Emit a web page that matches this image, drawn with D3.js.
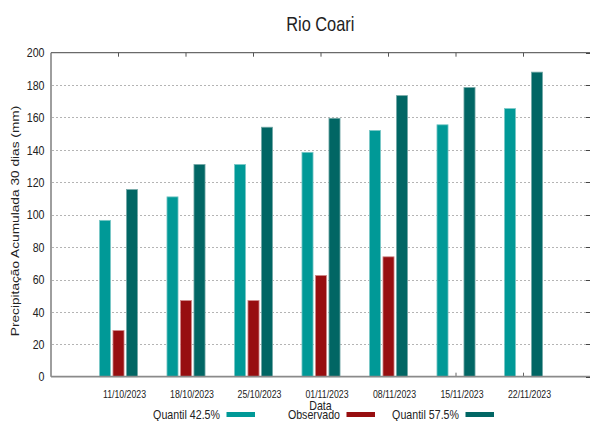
<!DOCTYPE html>
<html>
<head>
<meta charset="utf-8">
<script src="https://cdn.jsdelivr.net/npm/d3@7"></script>
<style>
  html, body { margin: 0; padding: 0; background: #fff; }
  svg { display: block; }
  text { font-family: "Liberation Sans", Arial, sans-serif; fill: #222; }
</style>
</head>
<body>
<svg id="chart" width="590" height="421"></svg>
<script>
// Accumulated 30-day precipitation, Rio Coari
const dates = ["11/10/2023", "18/10/2023", "25/10/2023", "01/11/2023", "08/11/2023", "15/11/2023", "22/11/2023"];
const seriesNames = ["Quantil 42.5%", "Observado", "Quantil 57.5%"];
const seriesColors = ["#009997", "#970e10", "#016664"];
const seriesEdge = ["#7cc9c7", "#d08a8a", "#74a9a7"];
const quantil425 = [96.5, 111, 131, 138.5, 152, 155.5, 165.5];
const observado = [28.5, 47, 47, 62.5, 74, null, null];
const quantil575 = [115.5, 131, 154, 159.5, 173.5, 178.5, 188];
const yTicks = [0, 20, 40, 60, 80, 100, 120, 140, 160, 180, 200];
const gridTicks = [20, 40, 60, 80, 100, 120, 140, 160, 180];

const titleText = "Rio Coari";
const xTitle = "Data";
const yTitle = "Precipitação Acumulada 30 dias (mm)";

const values = [quantil425, observado, quantil575];

// horizontal condensation applied to all lettering
const SQ = 0.82;

const svg = d3.select("#chart");
const plot = { left: 51, right: 591, top: 52.7, bottom: 376.7 };

const x = d3.scalePoint().domain(dates).range([plot.left, plot.right]).padding(1);
const step = x.step();
const inner = d3.scaleBand().domain(seriesNames)
  .range([-step * 0.3, step * 0.3]).paddingInner(0.18).paddingOuter(0.09);
const y = d3.scaleLinear().domain([0, 200]).range([plot.bottom, plot.top]);

// condensed text helper: places text at (px, py) squeezed horizontally
function label(parent, px, py, str, size, anchor) {
  return parent.append("text")
    .attr("transform", `translate(${px},${py}) scale(${SQ},1)`)
    .attr("text-anchor", anchor)
    .attr("font-size", size)
    .text(str);
}

// dotted horizontal grid
svg.append("g").selectAll("line").data(gridTicks).join("line")
  .attr("x1", plot.left + 1).attr("x2", plot.right - 1)
  .attr("y1", d => Math.round(y(d)) + 0.5).attr("y2", d => Math.round(y(d)) + 0.5)
  .attr("stroke", "#b4b4b4").attr("stroke-width", 1).attr("stroke-dasharray", "2,2");

// bottom tick marks at each date
svg.append("g").selectAll("line").data(dates).join("line")
  .attr("x1", d => x(d)).attr("x2", d => x(d))
  .attr("y1", plot.bottom).attr("y2", plot.bottom - 4)
  .attr("stroke", "#666").attr("stroke-width", 1);

// bars
seriesNames.forEach((name, si) => {
  const rows = dates.map((d, i) => ({ date: d, v: values[si][i] })).filter(r => r.v != null);
  svg.append("g").selectAll("rect").data(rows).join("rect")
    .attr("x", r => x(r.date) + inner(name))
    .attr("width", inner.bandwidth())
    .attr("y", r => y(r.v))
    .attr("height", r => y(0) - y(r.v))
    .attr("fill", seriesColors[si])
    .attr("stroke", seriesEdge[si])
    .attr("stroke-width", 0.8);
});

// frame
const frame = svg.append("g").attr("fill", "none");
frame.append("line").attr("x1", plot.left).attr("x2", plot.right)
  .attr("y1", plot.top).attr("y2", plot.top).attr("stroke", "#6a6a6a").attr("stroke-width", 1.3);
frame.append("line").attr("x1", plot.left).attr("x2", plot.left)
  .attr("y1", plot.top).attr("y2", plot.bottom).attr("stroke", "#6a6a6a").attr("stroke-width", 1.3);
frame.append("line").attr("x1", plot.left).attr("x2", plot.right)
  .attr("y1", plot.bottom).attr("y2", plot.bottom).attr("stroke", "#8a8a8a").attr("stroke-width", 1.8);

// top mirrored ticks
svg.append("g").selectAll("line").data(dates).join("line")
  .attr("x1", d => x(d)).attr("x2", d => x(d))
  .attr("y1", plot.top).attr("y2", plot.top + 4)
  .attr("stroke", "#555").attr("stroke-width", 1);

// right mirrored ticks
svg.append("g").selectAll("line").data(yTicks).join("line")
  .attr("x1", plot.right - 5).attr("x2", plot.right)
  .attr("y1", d => Math.round(y(d)) + 0.5).attr("y2", d => Math.round(y(d)) + 0.5)
  .attr("stroke", "#444").attr("stroke-width", 1);

// y tick labels
const yLab = svg.append("g");
yTicks.forEach(d => label(yLab, 44.5, y(d) + 4.6, d, 13, "end"));

// x tick labels
const xLab = svg.append("g");
dates.forEach(d => label(xLab, x(d) + 6, 398.3, d, 10.7, "middle"));

// title
label(svg, 320.3, 31, titleText, 20, "middle").attr("fill", "#111");

// x axis title
label(svg, 320.5, 409.6, xTitle, 13, "middle");

// y axis title (rotated, condensed along the glyph height)
svg.append("text")
  .attr("transform", `translate(19.3,221) scale(${SQ},1) rotate(-90)`)
  .attr("text-anchor", "middle")
  .attr("font-size", 13.7)
  .text(yTitle);

// legend
const legendTextEnd = [220, 340, 459];
const legend = svg.append("g");
seriesNames.forEach((name, i) => {
  label(legend, legendTextEnd[i], 418.8, name, 13, "end");
  legend.append("rect").attr("x", legendTextEnd[i] + 6.5).attr("y", 412)
    .attr("width", 28.5).attr("height", 5)
    .attr("fill", seriesColors[i]);
});
</script>
</body>
</html>
